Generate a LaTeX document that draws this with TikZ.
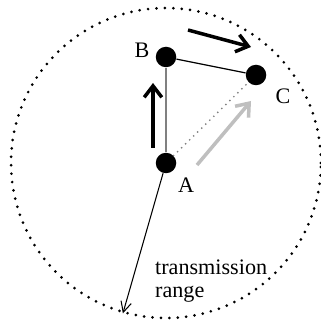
\documentclass[tikz,border=0pt]{standalone}
\usepackage{fontspec}
\setmainfont{Liberation Serif}
\usetikzlibrary{arrows.meta}

\begin{document}
\begin{tikzpicture}[
  x=0.02cm, y=-0.02cm, font=\fontsize{12.6}{13}\selectfont,
  every node/.style={align=left},
  station/.style={circle, fill=black, inner sep=0pt, minimum size=0.41cm},
  rangecircle/.style={circle, draw, inner sep=0pt, minimum size=6.2cm,
    line width=1.7pt, line cap=round, dash pattern=on 0pt off 4.8pt},
  motion/.style={-{Straight Barb[length=6.5pt, width=10pt]}, line width=2pt},
  reach/.style={-{Straight Barb[length=6pt, width=6pt]}, line width=0.6pt}]
\useasboundingbox (0,0) rectangle (320,323);
\node[station] (A) at (166,163) {};
\node[station] (B) at (166,57) {};
\node[station] (C) at (256,75) {};
\node[rangecircle] (circ) at (A) {};
\node at (142,50) {B};
\node at (283,96) {C};
\node at (186,185) {A};
\node[anchor=west] (label) at (149,281) {transmission\\range};
\draw[gray, line width=1pt] (A) -- (B);
\draw[line width=0.7pt] (B) -- (C);
\draw[gray, line width=1.1pt, line cap=round, dash pattern=on 0pt off 3.2pt]
  (A) -- (C);
\draw[reach] (A) -- (circ.254);
\coordinate (up0) at (153,148);
\coordinate (up1) at (153,83);
\coordinate (right0) at (188,30);
\coordinate (right1) at (251,47);
\coordinate (diag0) at (197,165);
\coordinate (diag1) at (251,101);
\draw[motion] (up0) -- (up1);
\draw[motion] (right0) -- (right1);
\draw[motion, black!25] (diag0) -- (diag1);
\end{tikzpicture}
\end{document}
